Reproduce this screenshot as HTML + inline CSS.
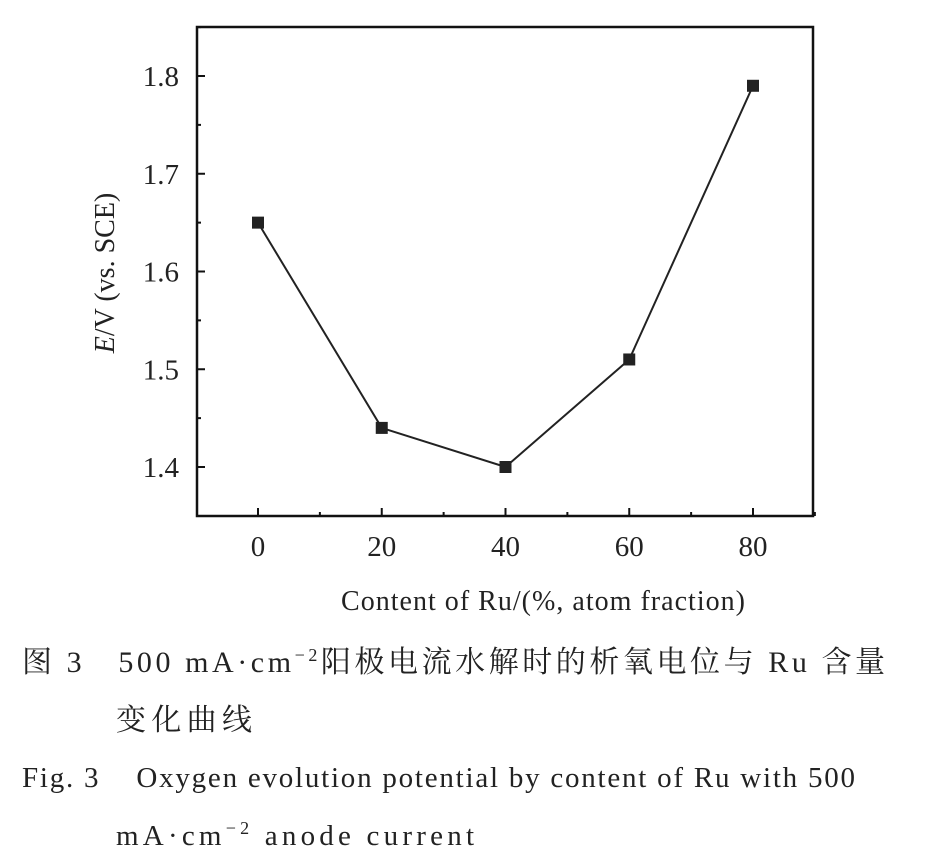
<!DOCTYPE html>
<html><head><meta charset="utf-8"><style>
body{margin:0;background:#fff;width:930px;height:866px;overflow:hidden;font-family:"Liberation Serif","Noto Serif CJK SC",serif;}
</style></head><body>
<svg width="930" height="866" style="position:absolute;left:0;top:0">
<g id="g"></g>
<text x="22" y="672" font-size="30" fill="#222" textLength="863" lengthAdjust="spacing">图 3&#160;&#160;&#160;500 mA·cm<tspan font-size="18" dy="-11">−2</tspan><tspan dy="11">阳极电流水解时的析氧电位与 Ru 含量</tspan></text>
<text x="116" y="730" font-size="30" fill="#222" textLength="136" lengthAdjust="spacing">变化曲线</text>
<text x="22" y="787" font-size="29" fill="#222" textLength="833" lengthAdjust="spacing">Fig. 3&#160;&#160;&#160;&#160;Oxygen evolution potential by content of Ru with 500</text>
<text x="116" y="845" font-size="29" fill="#222" textLength="358" lengthAdjust="spacing">mA·cm<tspan font-size="18" dy="-11">−2</tspan><tspan dy="11"> anode current</tspan></text>
</svg>
<script>
const categories=[0,20,40,60,80];
const values=[1.65,1.44,1.40,1.51,1.79];
const xTicks=["0","20","40","60","80"];
const yTicks=["1.4","1.5","1.6","1.7","1.8"];
const L=197,R=813,T=27,B=516;
const x=v=>258+(v-0)*(753-258)/80;
const y=v=>467-(v-1.4)*(467-76)/0.4;
const NS="http://www.w3.org/2000/svg",g=document.getElementById('g');
function mk(t,a){const e=document.createElementNS(NS,t);for(const k in a)e.setAttribute(k,a[k]);g.appendChild(e);return e;}
let f=mk('rect',{x:L,y:T,width:R-L,height:B-T,fill:'none',stroke:'#111','stroke-width':2.5});


for(let i=0;i<xTicks.length;i++){const v=+xTicks[i];
 let t=mk('line',{x1:x(v),x2:x(v),y1:B,y2:B-8,stroke:'#111','stroke-width':2});
 
 
 let m=mk('line',{x1:x(v+10),x2:x(v+10),y1:B,y2:B-4,stroke:'#111','stroke-width':2});
 
 
 let l=mk('text',{x:x(v),y:B+40,'text-anchor':'middle','font-size':29,fill:'#222'});l.textContent=xTicks[i];
 
 
}
for(let i=0;i<yTicks.length;i++){const v=+yTicks[i];
 let t=mk('line',{x1:L,x2:L+8,y1:y(v),y2:y(v),stroke:'#111','stroke-width':2});
 
 
 let m=mk('line',{x1:L,x2:L+4,y1:y(v+0.05),y2:y(v+0.05),stroke:'#111','stroke-width':2});
 
 
 let l=mk('text',{x:L-18,y:y(v)+10,'text-anchor':'end','font-size':29,fill:'#222'});l.textContent=yTicks[i];
 
 
}
let p=mk('polyline',{points:categories.map((c,i)=>x(c)+','+y(values[i])).join(' '),fill:'none',stroke:'#222','stroke-width':2});


categories.forEach((c,i)=>{let r=mk('rect',{x:x(c)-6,y:y(values[i])-6,width:12,height:12,fill:'#222'});
 
 });
let xt=mk('text',{x:341,y:610,'font-size':28,fill:'#222',textLength:404,lengthAdjust:'spacing'});xt.textContent='Content of Ru/(%, atom fraction)';


let yt=mk('text',{x:0,y:0,'text-anchor':'middle','font-size':28,fill:'#222',transform:'translate(114,273) rotate(-90)'});
yt.innerHTML='<tspan font-style="italic">E</tspan>/V (vs. SCE)';


</script>
</body></html>
